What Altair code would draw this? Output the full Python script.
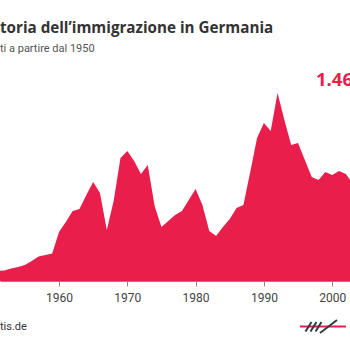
import altair as alt
import pandas as pd

years = list(range(1950, 2004))
arrivals_k = [
    80, 80, 84, 100, 112, 128, 160, 196, 208, 220,      # 1950-1959
    392, 472, 560, 576, 688, 792, 704, 408, 640, 984,   # 1960-1969
    1040, 960, 856, 928, 600, 432, 480, 528, 560, 648,  # 1970-1979
    736, 608, 400, 360, 432, 496, 584, 608, 872, 1144,  # 1980-1989
    1264, 1200, 1504, 1288, 1088, 1104, 968, 832, 808, 872,  # 1990-1999
    848, 880, 856, 780,                                  # 2000-2003
]
tick_years = [1960, 1970, 1980, 1990, 2000]

title_text = "toria dell\u2019immigrazione in Germania"
subtitle_text = "ti a partire dal 1950"
source_text = "tis.de"
label_text = "1.46"

RED = "#e91e4b"
DARK = "#2f3d40"

df = pd.DataFrame({"year": years, "value": arrivals_k})

x_scale = alt.Scale(domain=[1951.36, 2002.61], nice=False, zero=False)
y_scale = alt.Scale(domain=[0, 2248], nice=False)

area = alt.Chart(df).mark_area(color=RED, clip=True, opacity=1).encode(
    x=alt.X("year:Q", scale=x_scale,
            axis=alt.Axis(values=tick_years, format="d", title=None, grid=False,
                          domain=True, domainColor="#888", domainWidth=1,
                          ticks=True, tickColor="#888", tickSize=5,
                          labelFont="Roboto", labelFontSize=12, labelColor="#444",
                          labelPadding=6)),
    y=alt.Y("value:Q", scale=y_scale, axis=None),
)

one = alt.Data(values=[{"k": 1}])

def txt(text, x, y, size, color, font, weight="normal", align="left"):
    return alt.Chart(one).mark_text(
        text=text, align=align, baseline="alphabetic", fontSize=size,
        color=color, font=font, fontWeight=weight,
    ).encode(x=alt.value(x), y=alt.value(y))

title = txt(title_text, 0, 33, 15.2, "#333", "Open Sans", "bold")
subtitle = txt(subtitle_text, 0, 51.5, 11, "#555", "Roboto")
source = txt(source_text, 0, 330, 11, "#333", "Roboto")
label = txt(label_text, 316, 86, 18.5, RED, "Open Sans", "bold")

logo_red = alt.Chart(one).mark_rule(color=RED, strokeWidth=2).encode(
    x=alt.value(300), x2=alt.value(346), y=alt.value(326.5), y2=alt.value(326.5))

strokes = pd.DataFrame({
    "x1": [305.5, 310.5, 315.5, 320.0],
    "y1": [331.5, 331.5, 331.5, 333.0],
    "x2": [311.5, 316.5, 321.5, 337.0],
    "y2": [322.0, 322.0, 322.0, 320.0],
})
logo_dark = alt.Chart(strokes).mark_rule(color=DARK, strokeWidth=2).encode(
    x=alt.X("x1:Q", scale=None), x2="x2:Q",
    y=alt.Y("y1:Q", scale=None), y2="y2:Q")

chart = alt.layer(area, title, subtitle, source, label, logo_red, logo_dark).properties(
    width=350, height=281,
    autosize=alt.AutoSizeParams(type="none"),
    padding={"left": 0, "top": 0, "right": 0, "bottom": 69},
    background="white",
).configure_view(stroke=None)

chart.save("out.html", embed_options={"renderer": "svg", "actions": False})
